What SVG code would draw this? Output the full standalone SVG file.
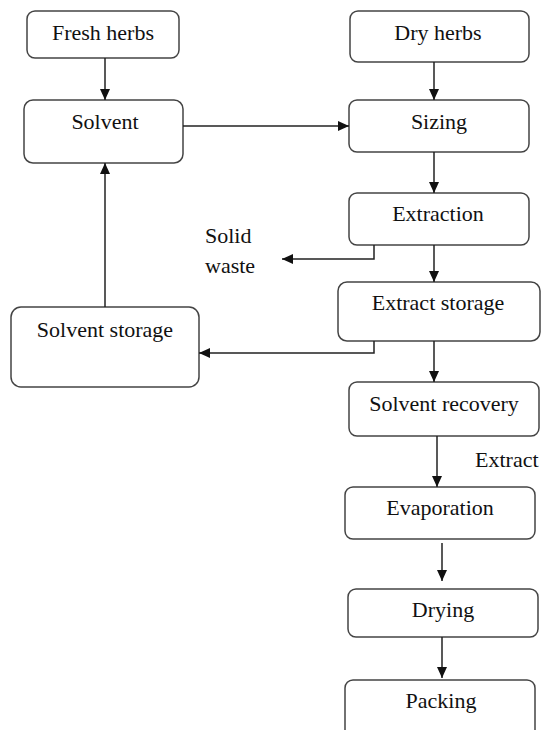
<svg xmlns="http://www.w3.org/2000/svg" width="542" height="730" viewBox="0 0 542 730">
<defs>
<marker id="ah" markerUnits="userSpaceOnUse" markerWidth="12" markerHeight="11" refX="11" refY="5" orient="auto">
<path d="M0,0 L11,5 L0,10 z" fill="#111"/>
</marker>
<style>
.box{fill:#fff;stroke:#444;stroke-width:1.5}
.t{font-family:"Liberation Serif","Times New Roman",serif;font-size:22px;fill:#111;text-anchor:middle}
.tl{font-family:"Liberation Serif","Times New Roman",serif;font-size:22px;fill:#111}
.c{fill:none;stroke:#222;stroke-width:1.5}
.ca{fill:none;stroke:#222;stroke-width:1.5;marker-end:url(#ah)}
</style>
</defs>
<rect width="542" height="730" fill="#fff"/>
<g id="fresh-herbs"><rect class="box" x="27" y="11" width="152" height="47" rx="8"/><text class="t" x="103" y="40">Fresh herbs</text></g>
<g id="dry-herbs"><rect class="box" x="350" y="11" width="179" height="51" rx="8"/><text class="t" x="438" y="40">Dry herbs</text></g>
<g id="solvent"><rect class="box" x="24" y="100" width="159" height="63" rx="9"/><text class="t" x="105" y="129">Solvent</text></g>
<g id="sizing"><rect class="box" x="349" y="100" width="180" height="52" rx="8"/><text class="t" x="439" y="129">Sizing</text></g>
<g id="extraction"><rect class="box" x="349" y="193" width="180" height="52" rx="8"/><text class="t" x="438" y="221">Extraction</text></g>
<g id="solid-waste"><text class="tl" x="205" y="243">Solid</text><text class="tl" x="205" y="273">waste</text></g>
<g id="extract-storage"><rect class="box" x="338" y="282" width="202" height="59" rx="9"/><text class="t" x="438" y="310">Extract storage</text></g>
<g id="solvent-storage"><rect class="box" x="11" y="307" width="188" height="80" rx="10"/><text class="t" x="105" y="337">Solvent storage</text></g>
<g id="solvent-recovery"><rect class="box" x="349" y="382" width="190" height="54" rx="8"/><text class="t" x="444" y="411">Solvent recovery</text></g>
<g id="extract-label"><text class="tl" x="475" y="467">Extract</text></g>
<g id="evaporation"><rect class="box" x="345" y="487" width="190" height="52" rx="8"/><text class="t" x="440" y="515">Evaporation</text></g>
<g id="drying"><rect class="box" x="348" y="589" width="190" height="48" rx="8"/><text class="t" x="443" y="617">Drying</text></g>
<g id="packing"><rect class="box" x="345" y="680" width="190" height="70" rx="8"/><text class="t" x="441" y="708">Packing</text></g>
<g id="connectors">
<line class="ca" x1="105" y1="58" x2="105" y2="100"/>
<line class="ca" x1="434" y1="62" x2="434" y2="100"/>
<line class="ca" x1="183" y1="126" x2="349" y2="126"/>
<line class="ca" x1="434" y1="152" x2="434" y2="193"/>
<polyline class="ca" points="374,245 374,259 282,259"/>
<line class="ca" x1="434" y1="245" x2="434" y2="282"/>
<polyline class="ca" points="374,341 374,353 199,353"/>
<line class="ca" x1="434" y1="341" x2="434" y2="382"/>
<line class="ca" x1="105" y1="307" x2="105" y2="163"/>
<line class="ca" x1="437" y1="436" x2="437" y2="487"/>
<line class="ca" x1="442" y1="543" x2="442" y2="581"/>
<line class="ca" x1="442" y1="637" x2="442" y2="678"/>
</g>
</svg>
